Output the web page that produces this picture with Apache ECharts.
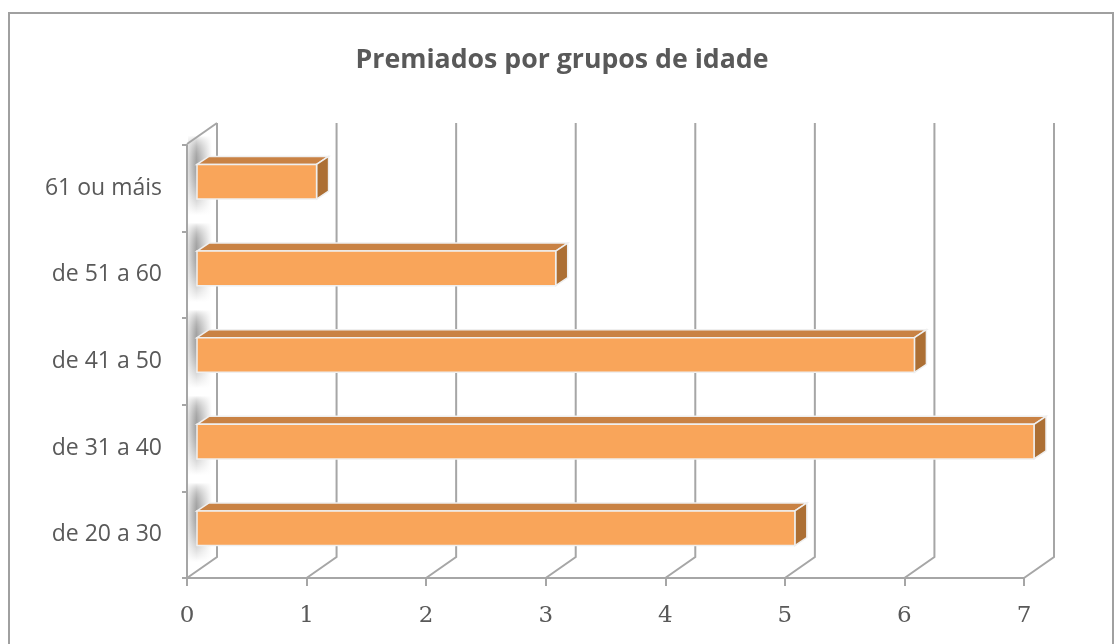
<!DOCTYPE html>
<html>
<head>
<meta charset="utf-8">
<script src="https://cdn.jsdelivr.net/npm/echarts@6/dist/echarts.min.js"></script>
<style>html,body{margin:0;padding:0;background:#fff;}#c{width:1117px;height:644px;}</style>
</head>
<body>
<div id="c"></div>
<script>
const categories = ['de 20 a 30', 'de 31 a 40', 'de 41 a 50', 'de 51 a 60', '61 ou máis'];
const values = [5, 7, 6, 3, 1];
const xTicks = [0, 1, 2, 3, 4, 5, 6, 7];
const titleText = 'Premiados por grupos de idade';

const lineColor = '#a6a6a6';
const depthX = 30, depthY = -21;

const chart = echarts.init(document.getElementById('c'));

function frameItem(params, api) {
  const cs = params.coordSys;
  const v = api.value(0);
  const x = api.coord([v, 0])[0];
  const bottom = cs.y + cs.height, top = cs.y;
  const children = [{
    type: 'polyline',
    shape: { points: [[x, bottom], [x + depthX, bottom + depthY], [x + depthX, top + depthY - 1]] },
    style: { stroke: lineColor, lineWidth: 2, fill: null }
  }];
  if (v === 0) {
    children.push({
      type: 'polyline',
      shape: { points: [[x, top - 1], [x + depthX, top + depthY - 1]] },
      style: { stroke: lineColor, lineWidth: 2, fill: null }
    });
  }
  return { type: 'group', children };
}

function geom(api) {
  const v = api.value(0), ci = api.value(1);
  const p0 = api.coord([0, ci]);
  const p1 = api.coord([v, ci]);
  const band = api.size([0, 1])[1];
  const h = band * 0.4;
  const cy = p0[1] - 6.5;
  return { x0: p0[0], fx0: p0[0] + 10, fx1: p1[0] + 10, t: cy - h / 2, b: cy + h / 2, h };
}

function shadeItem(params, api) {
  const g = geom(api);
  const y0 = Math.round(g.t - 28), y1 = Math.round(g.b + 16);
  const children = [];
  for (let y = y0; y < y1; y++) {
    const u = (y + 0.5 - y0) / (y1 - y0);
    const a = 0.7 * Math.sin(Math.PI * Math.pow(u, 0.7));
    children.push({
      type: 'rect',
      shape: { x: g.x0 + 1, y: y, width: 24, height: 1 },
      style: {
        fill: { type: 'linear', x: 0, y: 0, x2: 1, y2: 0,
          colorStops: [
            { offset: 0, color: 'rgba(120,120,120,' + (a * 0.35).toFixed(3) + ')' },
            { offset: 0.35, color: 'rgba(120,120,120,' + a.toFixed(3) + ')' },
            { offset: 1, color: 'rgba(120,120,120,0)' }
          ] }
      }
    });
  }
  return { type: 'group', children };
}

function barItem(params, api) {
  const g = geom(api);
  const fx0 = g.fx0, fx1 = g.fx1, t = g.t, b = g.b, h = g.h;
  const dx = 12, dy = -8;
  const stroke = '#efefef';
  return {
    type: 'group',
    children: [
      {
        type: 'polygon',
        shape: { points: [[fx0, t], [fx0 + dx, t + dy], [fx1 + dx, t + dy], [fx1, t]] },
        style: { fill: '#C98244', stroke: stroke, lineWidth: 1.5 }
      },
      {
        type: 'polygon',
        shape: { points: [[fx1, t], [fx1 + dx, t + dy], [fx1 + dx, b + dy], [fx1, b]] },
        style: { fill: '#AC6F34', stroke: stroke, lineWidth: 1.5 }
      },
      {
        type: 'rect',
        shape: { x: fx0, y: t, width: fx1 - fx0, height: h },
        style: { fill: '#F9A55A', stroke: stroke, lineWidth: 1.5 }
      }
    ]
  };
}

const option = {
  animation: false,
  backgroundColor: '#ffffff',
  title: {
    text: titleText, left: 557, textAlign: 'center', top: 42,
    textStyle: { fontFamily: 'Open Sans', fontWeight: 'bold', fontSize: 26.7, color: '#595959' }
  },
  graphic: [{
    type: 'rect', z: -10,
    shape: { x: 9, y: 13, width: 1104, height: 700 },
    style: { fill: 'none', stroke: '#a0a0a0', lineWidth: 2 }
  }],
  grid: { left: 187, right: 93, top: 145, bottom: 66 },
  xAxis: {
    type: 'value', min: 0, max: 7, interval: 1,
    axisLine: { show: true, lineStyle: { color: lineColor, width: 2 } },
    axisTick: { show: true, length: 8, lineStyle: { color: lineColor, width: 2 } },
    splitLine: { show: false },
    axisLabel: { margin: 27, fontFamily: 'DejaVu Serif', fontSize: 23, color: '#595959' }
  },
  yAxis: {
    type: 'category', data: categories,
    axisLine: { show: true, lineStyle: { color: lineColor, width: 2 } },
    axisTick: { show: true, length: 5, lineStyle: { color: lineColor, width: 2 } },
    axisLabel: { margin: 25, fontFamily: 'Open Sans', fontSize: 23, color: '#595959' }
  },
  series: [
    {
      type: 'custom', z: -1, clip: false, silent: true,
      renderItem: shadeItem,
      encode: { x: 0, y: 1 },
      data: values.map((v, i) => [v, i])
    },
    {
      type: 'custom', z: 1, clip: false, silent: true,
      renderItem: frameItem,
      encode: { x: 0, y: 1 },
      data: xTicks.map(v => [v, 0])
    },
    {
      type: 'custom', z: 3, clip: false,
      renderItem: barItem,
      encode: { x: 0, y: 1 },
      data: values.map((v, i) => [v, i])
    }
  ]
};
chart.setOption(option);
</script>
</body>
</html>
